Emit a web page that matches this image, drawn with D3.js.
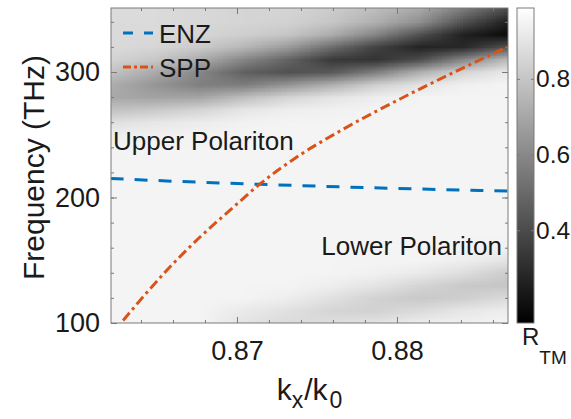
<!DOCTYPE html>
<html>
<head>
<meta charset="utf-8">
<script src="https://cdn.jsdelivr.net/npm/d3@7"></script>
<style>
  body { margin: 0; background: #fff; }
  svg text { font-family: "Liberation Sans", Arial, Helvetica, sans-serif; fill: #1a1a1a; }
</style>
</head>
<body>
<div id="chart"></div>
<script>
const kxGrid = [0.8621, 0.86485, 0.8676, 0.87035, 0.8731, 0.87585, 0.8786, 0.88135, 0.8841, 0.88685];
const freqGrid = [350, 340, 330, 320, 310, 300, 290, 280, 270, 260, 250, 240, 230, 220, 210,
                  200, 190, 180, 170, 160, 150, 140, 130, 120, 110, 100];
const rtmGrid = [
    [0.87, 0.87, 0.86, 0.85, 0.85, 0.82, 0.77, 0.70, 0.55, 0.40],
    [0.87, 0.87, 0.86, 0.85, 0.84, 0.80, 0.73, 0.62, 0.42, 0.26],
    [0.87, 0.867, 0.851, 0.83, 0.80, 0.72, 0.59, 0.42, 0.26, 0.19],
    [0.865, 0.853, 0.813, 0.753, 0.66, 0.51, 0.37, 0.27, 0.29, 0.43],
    [0.843, 0.803, 0.717, 0.593, 0.48, 0.34, 0.32, 0.41, 0.60, 0.77],
    [0.789, 0.711, 0.595, 0.473, 0.42, 0.45, 0.57, 0.73, 0.85, 0.92],
    [0.72, 0.642, 0.569, 0.563, 0.64, 0.73, 0.83, 0.90, 0.94, 0.95],
    [0.706, 0.687, 0.697, 0.776, 0.85, 0.90, 0.93, 0.95, 0.95, 0.95],
    [0.787, 0.815, 0.849, 0.907, 0.93, 0.94, 0.95, 0.95, 0.95, 0.95],
    [0.885, 0.908, 0.926, 0.944, 0.95, 0.95, 0.95, 0.95, 0.95, 0.95],
    [0.934, 0.942, 0.947, 0.95, 0.95, 0.95, 0.95, 0.95, 0.95, 0.95],
    [0.948, 0.95, 0.95, 0.95, 0.95, 0.95, 0.95, 0.95, 0.95, 0.95],
    [0.95, 0.95, 0.95, 0.95, 0.95, 0.95, 0.95, 0.95, 0.95, 0.95],
    [0.95, 0.95, 0.95, 0.95, 0.95, 0.95, 0.95, 0.95, 0.95, 0.95],
    [0.95, 0.95, 0.95, 0.95, 0.95, 0.95, 0.95, 0.95, 0.95, 0.95],
    [0.95, 0.95, 0.95, 0.95, 0.95, 0.95, 0.95, 0.95, 0.95, 0.95],
    [0.95, 0.95, 0.95, 0.95, 0.95, 0.95, 0.95, 0.95, 0.95, 0.95],
    [0.95, 0.95, 0.95, 0.95, 0.95, 0.95, 0.95, 0.95, 0.95, 0.95],
    [0.95, 0.95, 0.95, 0.95, 0.95, 0.95, 0.95, 0.95, 0.95, 0.95],
    [0.95, 0.95, 0.95, 0.95, 0.95, 0.95, 0.95, 0.95, 0.95, 0.94],
    [0.95, 0.95, 0.95, 0.95, 0.95, 0.95, 0.95, 0.95, 0.93, 0.90],
    [0.95, 0.95, 0.95, 0.95, 0.95, 0.95, 0.94, 0.92, 0.88, 0.82],
    [0.95, 0.95, 0.95, 0.95, 0.95, 0.93, 0.90, 0.85, 0.81, 0.80],
    [0.95, 0.95, 0.95, 0.95, 0.93, 0.89, 0.84, 0.81, 0.83, 0.87],
    [0.95, 0.95, 0.95, 0.92, 0.89, 0.85, 0.84, 0.87, 0.91, 0.93],
    [0.95, 0.95, 0.95, 0.90, 0.87, 0.88, 0.90, 0.93, 0.94, 0.95]
];

// dispersion curves
const enzKx = [0.8621, 0.8656, 0.8714, 0.8781, 0.8869];
const enzFreq = [215.1, 213.2, 210.5, 207.9, 205.1];
const sppKx = [0.86288, 0.86563, 0.86769, 0.86975, 0.87144, 0.87394, 0.87644, 0.88019, 0.88438, 0.88688];
const sppFreq = [102, 142.2, 168.5, 192.0, 210.8, 233.9, 253.0, 278.5, 304.8, 319.9];

const xTicks = [0.87, 0.88];
const yTicks = [100, 200, 300];
const cbTicks = [0.4, 0.6, 0.8];

const W = 571, H = 419;
const plot = { left: 111, top: 8, right: 508, bottom: 323 };
const cbar = { left: 517, right: 534 };

const x = d3.scaleLinear().domain([0.862125, 0.88694]).range([plot.left, plot.right]);
const y = d3.scaleLinear().domain([100, 351]).range([plot.bottom, plot.top]);
const cb = d3.scaleLinear().domain([0.155, 0.987]).range([plot.bottom, plot.top]);
const gray = d3.scaleLinear().domain([0.155, 0.987]).range(["#000000", "#ffffff"]).clamp(true);

const svg = d3.select("#chart").append("svg")
    .attr("width", W)
    .attr("height", H);

svg.append("rect").attr("width", W).attr("height", H).attr("fill", "#fff");

const defs = svg.append("defs");
defs.append("clipPath").attr("id", "plotClip")
    .append("rect")
    .attr("x", plot.left).attr("y", plot.top)
    .attr("width", plot.right - plot.left)
    .attr("height", plot.bottom - plot.top);

// heatmap: small canvas, stretched by the browser (smooth scaling)
const nx = kxGrid.length, ny = freqGrid.length;
const canvas = document.createElement("canvas");
canvas.width = nx;
canvas.height = ny;
const ctx = canvas.getContext("2d");
const img = ctx.createImageData(nx, ny);
rtmGrid.forEach((row, j) => {
    row.forEach((v, i) => {
        const c = d3.color(gray(v));
        const k = (j * nx + i) * 4;
        img.data[k] = c.r;
        img.data[k + 1] = c.g;
        img.data[k + 2] = c.b;
        img.data[k + 3] = 255;
    });
});
ctx.putImageData(img, 0, 0);

const cellW = (x(kxGrid[nx - 1]) - x(kxGrid[0])) / (nx - 1);
const cellH = (y(freqGrid[ny - 1]) - y(freqGrid[0])) / (ny - 1);

const plotG = svg.append("g").attr("clip-path", "url(#plotClip)");
plotG.append("image")
    .attr("href", canvas.toDataURL())
    .attr("x", x(kxGrid[0]) - cellW / 2)
    .attr("y", y(freqGrid[0]) - cellH / 2)
    .attr("width", cellW * nx)
    .attr("height", cellH * ny)
    .attr("preserveAspectRatio", "none")
    .style("image-rendering", "auto");

const line = d3.line()
    .x(d => x(d[0]))
    .y(d => y(d[1]))
    .curve(d3.curveMonotoneX);

const enzColor = "#0072BD";
const sppColor = "#D95319";

plotG.append("path")
    .datum(d3.zip(enzKx, enzFreq))
    .attr("d", line)
    .attr("fill", "none")
    .attr("stroke", enzColor)
    .attr("stroke-width", 3)
    .attr("stroke-dasharray", "13,11");

plotG.append("path")
    .datum(d3.zip(sppKx, sppFreq))
    .attr("d", line)
    .attr("fill", "none")
    .attr("stroke", sppColor)
    .attr("stroke-width", 3)
    .attr("stroke-dasharray", "10,4,3,4");

// axes, MATLAB style: inward ticks on all four sides
const tickColor = "#7a7a7a";
const fontSize = 26;

function styleAxis(g, size = 27) {
    g.select(".domain").remove();
    g.selectAll(".tick line").attr("stroke", tickColor);
    g.selectAll("text").attr("font-size", size).attr("fill", "#1a1a1a")
        .style("font-family", '"Liberation Sans", Arial, Helvetica, sans-serif');
}

const xMinor = x.ticks(12);
const yMinor = y.ticks(12);

svg.append("g")
    .attr("transform", `translate(0,${plot.bottom})`)
    .call(d3.axisBottom(x).tickValues(xMinor).tickSize(-3).tickFormat(""))
    .call(styleAxis);
svg.append("g")
    .attr("transform", `translate(0,${plot.top})`)
    .call(d3.axisTop(x).tickValues(xMinor).tickSize(-3).tickFormat(""))
    .call(styleAxis);
svg.append("g")
    .attr("transform", `translate(${plot.left},0)`)
    .call(d3.axisLeft(y).tickValues(yMinor).tickSize(-3).tickFormat(""))
    .call(styleAxis);
svg.append("g")
    .attr("transform", `translate(${plot.right},0)`)
    .call(d3.axisRight(y).tickValues(yMinor).tickSize(-3).tickFormat(""))
    .call(styleAxis);

svg.append("g")
    .attr("transform", `translate(0,${plot.bottom})`)
    .call(d3.axisBottom(x).tickValues(xTicks).tickSize(-6).tickPadding(18).tickFormat(d3.format(".2f")))
    .call(styleAxis);
svg.append("g")
    .attr("transform", `translate(0,${plot.top})`)
    .call(d3.axisTop(x).tickValues(xTicks).tickSize(-6).tickFormat(""))
    .call(styleAxis);
svg.append("g")
    .attr("transform", `translate(${plot.left},0)`)
    .call(d3.axisLeft(y).tickValues(yTicks).tickSize(-6).tickPadding(11))
    .call(styleAxis);
svg.append("g")
    .attr("transform", `translate(${plot.right},0)`)
    .call(d3.axisRight(y).tickValues(yTicks).tickSize(-6).tickFormat(""))
    .call(styleAxis);

svg.append("rect")
    .attr("x", plot.left).attr("y", plot.top)
    .attr("width", plot.right - plot.left)
    .attr("height", plot.bottom - plot.top)
    .attr("fill", "none")
    .attr("stroke", tickColor)
    .attr("stroke-width", 1);

// axis labels
svg.append("text")
    .attr("transform", `translate(44,${(plot.top + plot.bottom) / 2 + 2}) rotate(-90)`)
    .attr("text-anchor", "middle")
    .attr("font-size", 30)
    .text("Frequency (THz)");

const xl = svg.append("text")
    .attr("x", (plot.left + plot.right) / 2)
    .attr("y", 400)
    .attr("text-anchor", "middle")
    .attr("font-size", 30);
xl.append("tspan").text("k");
xl.append("tspan").attr("dy", 8).attr("font-size", 23).text("x");
xl.append("tspan").attr("dy", -8).attr("dx", 1).text("/k");
xl.append("tspan").attr("dy", 8).attr("dx", 2).attr("font-size", 23).text("0");

// annotations
svg.append("text")
    .attr("x", 113).attr("y", 150)
    .attr("font-size", fontSize)
    .text("Upper Polariton");
svg.append("text")
    .attr("x", 502).attr("y", 255)
    .attr("text-anchor", "end")
    .attr("font-size", fontSize)
    .text("Lower Polariton");

// legend
const legend = [
    { name: "ENZ", color: enzColor, dash: "10,11", y: 33 },
    { name: "SPP", color: sppColor, dash: "8,3,3,3", y: 67 }
];
legend.forEach(d => {
    svg.append("line")
        .attr("x1", 123).attr("x2", 153)
        .attr("y1", d.y).attr("y2", d.y)
        .attr("stroke", d.color)
        .attr("stroke-width", 3)
        .attr("stroke-dasharray", d.dash);
    svg.append("text")
        .attr("x", 159).attr("y", d.y + 10)
        .attr("font-size", fontSize)
        .text(d.name);
});

// colorbar
const grad = defs.append("linearGradient")
    .attr("id", "cbGrad")
    .attr("x1", 0).attr("y1", 1).attr("x2", 0).attr("y2", 0);
grad.append("stop").attr("offset", 0).attr("stop-color", gray(0.155));
grad.append("stop").attr("offset", 1).attr("stop-color", gray(0.987));

svg.append("rect")
    .attr("x", cbar.left).attr("y", plot.top)
    .attr("width", cbar.right - cbar.left)
    .attr("height", plot.bottom - plot.top)
    .attr("fill", "url(#cbGrad)")
    .attr("stroke", tickColor)
    .attr("stroke-width", 1);

svg.append("g")
    .attr("transform", `translate(${cbar.right},0)`)
    .call(d3.axisRight(cb).tickValues(cbTicks).tickSize(-3).tickPadding(2).tickFormat(d3.format(".1f")))
    .call(g => styleAxis(g, 24.5));
svg.append("g")
    .attr("transform", `translate(${cbar.left},0)`)
    .call(d3.axisLeft(cb).tickValues(cbTicks).tickSize(-3).tickFormat(""))
    .call(styleAxis);

const rl = svg.append("text")
    .attr("x", 522).attr("y", 345)
    .attr("font-size", 24);
rl.append("tspan").text("R");
rl.append("tspan").attr("dy", 19).attr("font-size", 19).text("TM");
</script>
</body>
</html>
